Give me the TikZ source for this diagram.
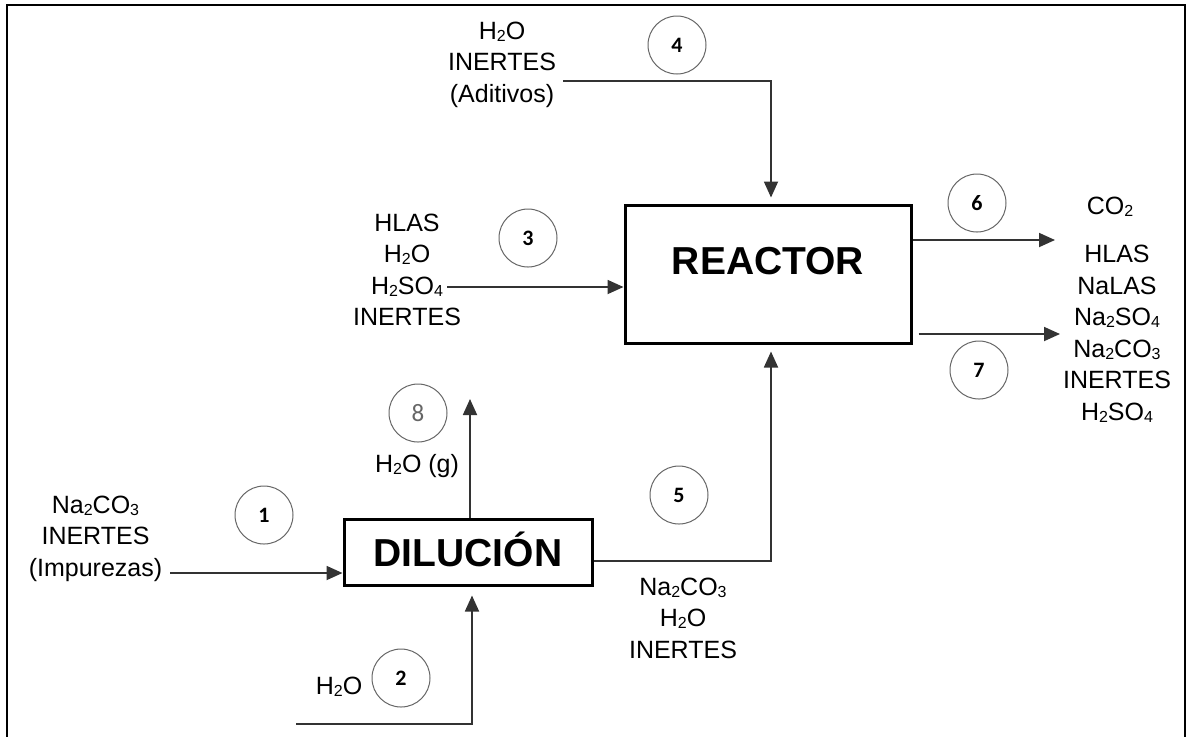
\documentclass[tikz,border=0pt]{standalone}
\usepackage{fontspec}
\setmainfont{Liberation Sans}
\newfontfamily\chiffre{Carlito}
\usetikzlibrary{arrows.meta}
\newcommand{\indice}[1]{\raisebox{-1pt}{\fontsize{8}{8}\selectfont #1}}

\begin{document}
\begin{tikzpicture}[x=0.5pt,y=-0.5pt,
  bloc/.style={draw,line width=1.5pt,font=\fontsize{19.5}{23}\selectfont\bfseries,inner sep=0},
  fl/.style={-{Triangle[length=8pt,width=7pt]},draw=black!80,line width=0.9pt},
  num/.style={circle,draw=black!60,line width=0.5pt,minimum size=29pt,inner sep=0,font=\chiffre\fontsize{11}{12}\selectfont\bfseries},
  txt/.style={align=center,inner sep=0,font=\fontsize{12.5}{15.75}\selectfont}
]
\useasboundingbox (0,0) rectangle (1189,736);
\draw[line width=1pt] (7,740) |- (1185,5) -- (1185,740);

\node[bloc,minimum width=143pt,minimum height=69pt,text depth=12.7pt] (reac) at (768,274) {REACTOR};
\node[bloc,minimum width=124pt,minimum height=33pt,text height=14pt,text depth=0pt] (dil) at (468,552) {DILUCIÓN};

\node[txt] (t1) at (95.5,538.5) {Na\indice{2}CO\indice{3}\\INERTES\\(Impurezas)};
\node[txt] (t2) at (339,687) {H\indice{2}O};
\node[txt] (t3) at (407,270) {HLAS\\H\indice{2}O\\H\indice{2}SO\indice{4}\\INERTES};
\node[txt] (t4) at (502,64.5) {H\indice{2}O\\INERTES\\(Aditivos)};
\node[txt] (t5) at (683,618) {Na\indice{2}CO\indice{3}\\H\indice{2}O\\INERTES};
\node[txt] (t6) at (1110,207) {CO\indice{2}};
\node[txt] (t7) at (1117,334) {HLAS\\NaLAS\\Na\indice{2}SO\indice{4}\\Na\indice{2}CO\indice{3}\\INERTES\\H\indice{2}SO\indice{4}};
\node[txt] (t8) at (417,466) {H\indice{2}O (g)};

\node[num] (n1) at (264,515) {1};
\node[num] (n2) at (401,678) {2};
\node[num] (n3) at (528,238) {3};
\node[num] (n4) at (677,45) {4};
\node[num] (n5) at (679,495) {5};
\node[num] (n6) at (977,203) {6};
\node[num] (n7) at (979,370) {7};
\node[num,font=\chiffre\fontsize{12.5}{14}\selectfont,text=black!60] (n8) at (418,413) {8};

\coordinate (e1) at (170,573);
\coordinate (e2) at (296,724);
\coordinate (e3) at (447,287);
\coordinate (e4) at (563,81);
\coordinate (s6) at (1055,240);
\coordinate (s7) at (1060,334);
\coordinate (s8) at (470,399);

\draw[fl] (e1) -- (e1 -| dil.west);
\draw[fl,shorten >=4.5pt] (e2) -| ([xshift=2pt]dil.south);
\draw[fl] (e3) -- (e3 -| reac.west);
\draw[fl,shorten >=3pt] (e4) -| ([xshift=1.5pt]reac.north);
\draw[fl,shorten >=3.5pt] ([yshift=-4.5pt]dil.east) -| ([xshift=1.5pt]reac.south);
\draw[fl] (reac.east |- s6) -- (s6);
\draw[fl,shorten <=3pt] (reac.east |- s7) -- (s7);
\draw[fl] (dil.north -| s8) -- (s8);
\end{tikzpicture}
\end{document}
